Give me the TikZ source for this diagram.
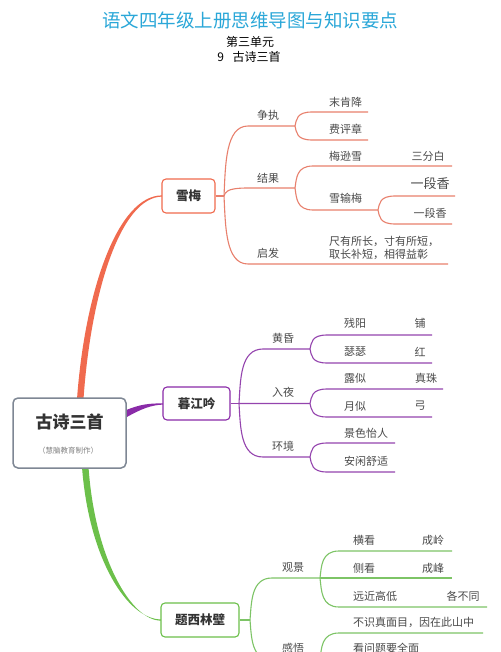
\documentclass[tikz,border=0pt]{standalone}
\usepackage{fontspec}
\newfontfamily\cjk{Noto Sans CJK SC}
\usetikzlibrary{calc}
\definecolor{titc}{HTML}{2AA7D8}
\definecolor{xmA}{HTML}{F06A4E}
\definecolor{xmB}{HTML}{E8806D}
\definecolor{mjA}{HTML}{8A2BA8}
\definecolor{mjB}{HTML}{9444AE}
\definecolor{txA}{HTML}{6CC04A}
\definecolor{txB}{HTML}{7DC466}
\definecolor{rootc}{HTML}{7E8794}
\definecolor{labc}{HTML}{4A4A4A}
\definecolor{boxt}{HTML}{333333}
\newcommand\brch[4][]{\draw[#1] (#2) .. controls ($(#2)!0.45!(#2|-#3)+(1.5,0)$) and ($(#2|-#3)+(1.5,0)$) .. ($(#2|-#3)+(#4,0)$) -- (#3);}
\begin{document}
\begin{tikzpicture}[x=1pt,y=-1pt,
  lab/.style={inner sep=0pt, font=\cjk\fontsize{11}{13}\selectfont, text=labc},
  labw/.style={lab, anchor=west},
  topbox/.style={draw, rounded corners=4pt, fill=white, line width=1.1pt, inner sep=0pt, text=boxt, font=\cjk\bfseries\fontsize{12.5}{15}\selectfont},
  xmline/.style={draw=xmB, line width=1.1pt},
  mjline/.style={draw=mjB, line width=1.1pt},
  txline/.style={draw=txB, line width=1.1pt}]
\useasboundingbox (0,0) rectangle (500,652);
\clip (0,0) rectangle (500,652);
\fill[white] (0,0) rectangle (500,652);
% header
\node[inner sep=0pt, font=\cjk\fontsize{18.5}{22}\selectfont, text=titc] (title) at (250,20) {语文四年级上册思维导图与知识要点};
\node[inner sep=0pt, font=\cjk\fontsize{12}{14}\selectfont] (unit) at (250,42) {第三单元};
\node[inner sep=0pt, font=\cjk\fontsize{12}{14}\selectfont] (lesson) at (249,57) {9\hspace{0.7em}古诗三首};
% tapered main branches
\fill[xmA] (77,399) .. controls (85,290) and (118,195.3) .. (162,195.4) -- (162,196.6) .. controls (121,197) and (91,291) .. (83.5,399) -- cycle;
\fill[mjA] (124,411) .. controls (140,404) and (150,403.3) .. (163,403.4) -- (163,404.6) .. controls (151,405) and (141,409) .. (126,417.5) -- cycle;
\fill[txA] (82,467) .. controls (89,560) and (128,619.4) .. (161,619.4) -- (161,620.6) .. controls (132,621) and (95,560) .. (88.5,467) -- cycle;
% root
\node[draw=rootc, line width=1.5pt, rounded corners=5pt, fill=white, minimum width=113pt, minimum height=70pt, inner sep=0pt] (root) at (69.5,433) {};
\node[inner sep=0pt, font=\cjk\bfseries\fontsize{17}{20}\selectfont, text=boxt] (rt) at (69.5,422) {古诗三首};
\node[inner sep=0pt, font=\cjk\fontsize{7.5}{9}\selectfont, text=gray] (rs) at (68,451) {（慧脑教育制作）};
% level-1 boxes
\node[topbox, draw=xmA, minimum width=53pt, minimum height=34pt] (xm) at (188.5,196) {雪梅};
\node[topbox, draw=mjA, minimum width=67pt, minimum height=33pt] (mj) at (196.5,403.5) {暮江吟};
\node[topbox, draw=txA, minimum width=78pt, minimum height=34pt] (tx) at (200,620) {题西林壁};

% ---------- 雪梅 ----------
\coordinate (j1) at (224,196);
\coordinate (zz) at (295,126);
\coordinate (jg) at (295,188);
\coordinate (qf) at (448,264);
\draw[xmline] (xm.east) -- (j1);
\brch[xmline]{j1}{zz}{24}
\brch[xmline]{j1}{jg}{24}
\brch[xmline]{j1}{qf}{24}
\node[lab] (l-zz) at (268,115) {争执};
\node[lab] (l-jg) at (268,178) {结果};
\node[lab] (l-qf) at (268,253) {启发};
\coordinate (e1) at (368,112);
\coordinate (e2) at (368,140);
\brch[xmline]{zz}{e1}{17}
\brch[xmline]{zz}{e2}{17}
\node[labw] (t1) at (329,102) {末肯降};
\node[labw] (t2) at (329,129) {费评章};
\coordinate (e3) at (452,166);
\coordinate (jx) at (378,210);
\brch[xmline]{jg}{e3}{18}
\brch[xmline]{jg}{jx}{18}
\node[labw] (t3) at (329,156) {梅逊雪};
\node[lab] (t3b) at (428,156) {三分白};
\node[labw] (t4) at (329,198) {雪输梅};
\coordinate (e4) at (455,196);
\coordinate (e5) at (452,224);
\brch[xmline]{jx}{e4}{17}
\brch[xmline]{jx}{e5}{17}
\node[lab, font=\cjk\fontsize{13}{15}\selectfont] (t5) at (430,184) {一段香};
\node[lab] (t6) at (430,213) {一段香};
\node[labw] (t7) at (329,241) {尺有所长，寸有所短，};
\node[labw] (t8) at (329,254) {取长补短，相得益彰};

% ---------- 暮江吟 ----------
\coordinate (j5) at (239,403.5);
\coordinate (hh) at (310,349);
\coordinate (ry) at (310,403.5);
\coordinate (hj) at (310,457);
\draw[mjline] (mj.east) -- (j5);
\brch[mjline]{j5}{hh}{24}
\brch[mjline]{j5}{ry}{24}
\brch[mjline]{j5}{hj}{24}
\node[lab] (l-hh) at (283,338) {黄昏};
\node[lab] (l-ry) at (283,392) {入夜};
\node[lab] (l-hj) at (283,446) {环境};
\coordinate (m1) at (432,335);
\coordinate (m2) at (432,363);
\brch[mjline]{hh}{m1}{17}
\brch[mjline]{hh}{m2}{17}
\node[labw] (u1) at (344,323) {残阳};
\node[lab] (u1b) at (420,323) {铺};
\node[labw] (u2) at (344,352) {瑟瑟};
\node[lab] (u2b) at (420,352) {红};
\coordinate (m3) at (443,389);
\coordinate (m4) at (432,417);
\brch[mjline]{ry}{m3}{17}
\brch[mjline]{ry}{m4}{17}
\node[labw] (u3) at (344,378) {露似};
\node[lab] (u3b) at (426,378) {真珠};
\node[labw] (u4) at (344,406) {月似};
\node[lab] (u4b) at (420,406) {弓};
\coordinate (m5) at (395,443);
\coordinate (m6) at (395,472);
\brch[mjline]{hj}{m5}{17}
\brch[mjline]{hj}{m6}{17}
\node[labw] (u5) at (344,433) {景色怡人};
\node[labw] (u6) at (344,461) {安闲舒适};

% ---------- 题西林壁 ----------
\coordinate (j9) at (250,620);
\coordinate (gj) at (320,578);
\coordinate (gw) at (320,660);
\draw[txline] (tx.east) -- (j9);
\brch[txline]{j9}{gj}{22}
\brch[txline]{j9}{gw}{22}
\node[lab] (l-gj) at (293,568) {观景};
\node[lab] (l-gw) at (293,648) {感悟};
\coordinate (g1) at (452,551);
\coordinate (g2) at (452,578);
\coordinate (g3) at (487,607);
\brch[txline]{gj}{g1}{19}
\brch[txline]{gj}{g2}{19}
\brch[txline]{gj}{g3}{19}
\node[labw] (v1) at (353,540) {横看};
\node[lab] (v1b) at (433,540) {成岭};
\node[labw] (v2) at (353,568) {侧看};
\node[lab] (v2b) at (433,568) {成峰};
\node[labw] (v3) at (353,596) {远近高低};
\node[lab] (v3b) at (463,596) {各不同};
\coordinate (g4) at (483,633);
\coordinate (g5) at (440,661);
\brch[txline]{gw}{g4}{19}
\brch[txline]{gw}{g5}{19}
\node[labw] (v4) at (353,622) {不识真面目，因在此山中};
\node[labw] (v5) at (353,648) {看问题要全面};
\end{tikzpicture}
\end{document}
